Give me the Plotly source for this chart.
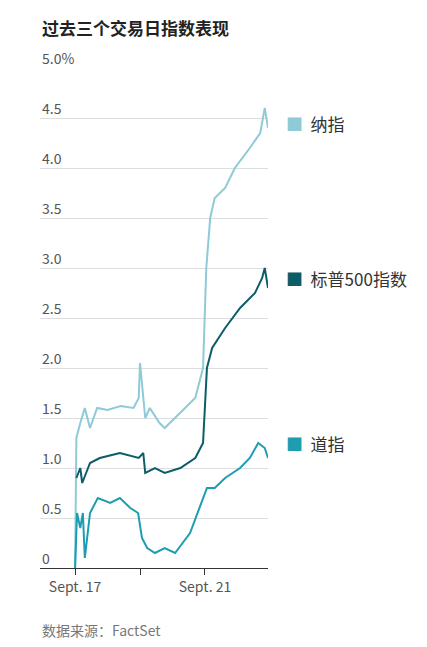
import plotly.graph_objects as go

# x in trading days from Sept. 17 open (0) ; Sept. 18 = 1, Sept. 21 = 2
nasdaq_x = [0, 0.02, 0.08, 0.15, 0.23, 0.34, 0.5, 0.7, 0.9, 0.98, 1.0, 1.08, 1.15, 1.3, 1.38, 1.54, 1.69, 1.85, 1.97, 2.02, 2.08, 2.15, 2.31, 2.46, 2.69, 2.85, 2.92, 2.97]
nasdaq_y = [0, 1.3, 1.45, 1.6, 1.4, 1.6, 1.58, 1.62, 1.6, 1.7, 2.05, 1.5, 1.6, 1.45, 1.4, 1.5, 1.6, 1.7, 2.0, 3.0, 3.5, 3.7, 3.8, 4.0, 4.2, 4.35, 4.6, 4.4]

sp_x = [0.02, 0.08, 0.11, 0.23, 0.38, 0.69, 0.98, 1.05, 1.08, 1.23, 1.38, 1.62, 1.85, 1.97, 2.03, 2.11, 2.31, 2.54, 2.77, 2.88, 2.92, 2.97]
sp_y = [0.9, 1.0, 0.85, 1.05, 1.1, 1.15, 1.1, 1.15, 0.95, 1.0, 0.95, 1.0, 1.1, 1.25, 2.0, 2.2, 2.4, 2.6, 2.75, 2.9, 3.0, 2.8]

dow_x = [0, 0.03, 0.08, 0.12, 0.15, 0.23, 0.35, 0.54, 0.69, 0.85, 0.97, 1.03, 1.11, 1.23, 1.38, 1.54, 1.77, 1.92, 2.03, 2.15, 2.31, 2.54, 2.69, 2.82, 2.92, 2.97]
dow_y = [0, 0.55, 0.4, 0.55, 0.1, 0.55, 0.7, 0.65, 0.7, 0.6, 0.55, 0.3, 0.2, 0.15, 0.2, 0.15, 0.35, 0.6, 0.8, 0.8, 0.9, 1.0, 1.1, 1.25, 1.2, 1.1]

names = ["纳指", "标普500指数", "道指"]
colors = ["#8ecad7", "#0c5d68", "#1c9db2"]
label_y = [4.45, 2.9, 1.25]

yticks = [0, 0.5, 1.0, 1.5, 2.0, 2.5, 3.0, 3.5, 4.0, 4.5, 5.0]
ytick_text = ["0", "0.5", "1.0", "1.5", "2.0", "2.5", "3.0", "3.5", "4.0", "4.5", "5.0%"]

fig = go.Figure()
for xs, ys, c in [(nasdaq_x, nasdaq_y, colors[0]), (sp_x, sp_y, colors[1]), (dow_x, dow_y, colors[2])]:
    fig.add_trace(go.Scatter(x=xs, y=ys, mode="lines", line=dict(color=c, width=2), showlegend=False))

x0 = -0.54
for v, t in zip(yticks, ytick_text):
    fig.add_annotation(x=x0, y=v, xref="x", yref="y", text=t, showarrow=False,
                       xanchor="left", yanchor="bottom", yshift=-2,
                       font=dict(size=14, color="#555"))

for n, c, yv in zip(names, colors, label_y):
    fig.add_annotation(x=1.0, y=yv, xref="paper", yref="y", xanchor="left", showarrow=False,
                       text="<span style='color:%s'>■</span>  %s" % (c, n), xshift=16,
                       font=dict(size=17, color="#333"))

fig.add_annotation(x=0, y=1.0, xref="paper", yref="paper", yshift=55, showarrow=False,
                   xanchor="left", text="<b>过去三个交易日指数表现</b>", font=dict(size=17, color="#222"))
fig.add_annotation(x=0, y=0, xref="paper", yref="paper", yshift=-74, showarrow=False,
                   xanchor="left", text="数据来源：FactSet", font=dict(size=14, color="#777"))

fig.update_layout(
    width=427, height=647, plot_bgcolor="white", paper_bgcolor="white",
    margin=dict(l=32, r=167, t=60, b=87),
    font=dict(family="Noto Sans CJK SC, Noto Sans", color="#555"),
    xaxis=dict(range=[x0, 2.97], tickvals=[0, 1, 2], ticktext=["Sept. 17", "", "Sept. 21"],
               ticks="outside", ticklen=6, tickcolor="#333", showgrid=False, zeroline=False,
               showline=True, linecolor="#333", tickfont=dict(size=14, color="#555")),
    yaxis=dict(range=[0, 5.0], tickvals=yticks, showticklabels=False, gridcolor="#ddd",
               zeroline=False),
)
fig.write_html("out.html")
